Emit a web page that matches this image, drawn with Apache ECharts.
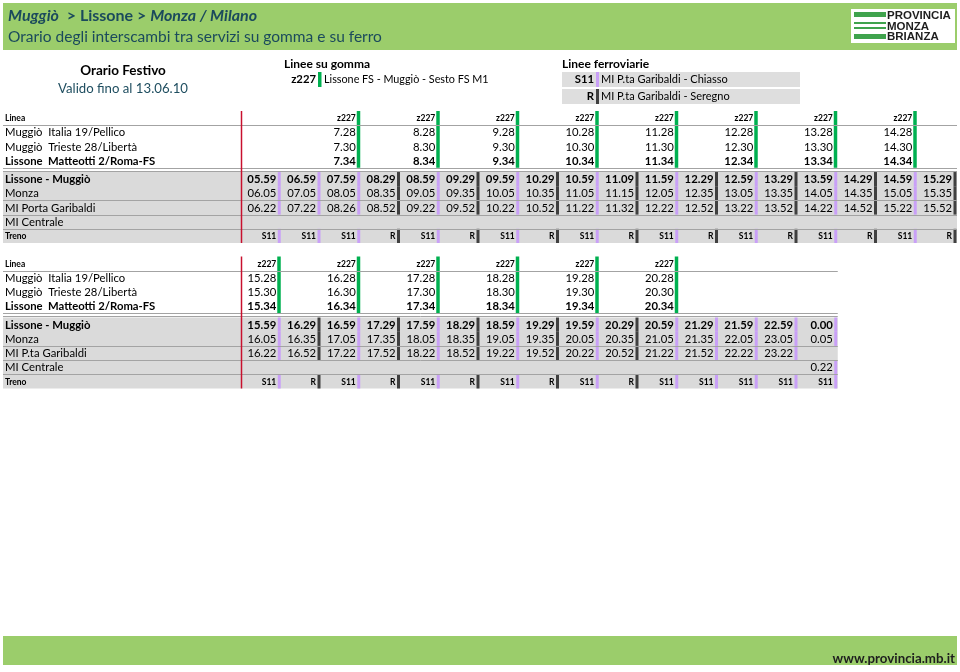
<!DOCTYPE html>
<html><head><meta charset="utf-8">
<script src="https://cdn.jsdelivr.net/npm/echarts@6/dist/echarts.min.js"></script>
<style>html,body{margin:0;padding:0;background:#fff}#c{width:960px;height:672px}</style>
</head><body><div id="c"></div>
<script>
// ---------------- DATA ----------------
const busLine = 'z227';
const busStops = ['Muggiò  Italia 19/Pellico', 'Muggiò  Trieste 28/Libertà', 'Lissone  Matteotti 2/Roma-FS'];
const trainStops1 = ['Lissone - Muggiò', 'Monza', 'MI Porta Garibaldi', 'MI Centrale'];
const trainStops2 = ['Lissone - Muggiò', 'Monza', 'MI P.ta Garibaldi', 'MI Centrale'];

// Table 1 (morning / midday)
const t1BusCols    = [2, 4, 6, 8, 10, 12, 14, 16];
const t1BusItalia  = ['7.28', '8.28', '9.28', '10.28', '11.28', '12.28', '13.28', '14.28'];
const t1BusTrieste = ['7.30', '8.30', '9.30', '10.30', '11.30', '12.30', '13.30', '14.30'];
const t1BusLissone = ['7.34', '8.34', '9.34', '10.34', '11.34', '12.34', '13.34', '14.34'];
const t1Lissone   = ['05.59','06.59','07.59','08.29','08.59','09.29','09.59','10.29','10.59','11.09','11.59','12.29','12.59','13.29','13.59','14.29','14.59','15.29'];
const t1Monza     = ['06.05','07.05','08.05','08.35','09.05','09.35','10.05','10.35','11.05','11.15','12.05','12.35','13.05','13.35','14.05','14.35','15.05','15.35'];
const t1Garibaldi = ['06.22','07.22','08.26','08.52','09.22','09.52','10.22','10.52','11.22','11.32','12.22','12.52','13.22','13.52','14.22','14.52','15.22','15.52'];
const t1Centrale  = ['','','','','','','','','','','','','','','','','',''];
const t1Treno     = ['S11','S11','S11','R','S11','R','S11','R','S11','R','S11','R','S11','R','S11','R','S11','R'];

// Table 2 (afternoon / evening)
const t2BusCols    = [0, 2, 4, 6, 8, 10];
const t2BusItalia  = ['15.28', '16.28', '17.28', '18.28', '19.28', '20.28'];
const t2BusTrieste = ['15.30', '16.30', '17.30', '18.30', '19.30', '20.30'];
const t2BusLissone = ['15.34', '16.34', '17.34', '18.34', '19.34', '20.34'];
const t2Lissone   = ['15.59','16.29','16.59','17.29','17.59','18.29','18.59','19.29','19.59','20.29','20.59','21.29','21.59','22.59','0.00'];
const t2Monza     = ['16.05','16.35','17.05','17.35','18.05','18.35','19.05','19.35','20.05','20.35','21.05','21.35','22.05','23.05','0.05'];
const t2Garibaldi = ['16.22','16.52','17.22','17.52','18.22','18.52','19.22','19.52','20.22','20.52','21.22','21.52','22.22','23.22',''];
const t2Centrale  = ['','','','','','','','','','','','','','','0.22'];
const t2Treno     = ['S11','R','S11','R','S11','R','S11','R','S11','R','S11','S11','S11','S11','S11'];

// ---------------- STYLE / LAYOUT ----------------
const FONT = 'Lato, "Open Sans", sans-serif';
const LOGO_FONT = '"Liberation Sans", Arial, sans-serif';
const C = {
  banner: '#9bcd6b', title: '#1b4a5c', gray: '#dadada', rule: '#a3a3a3',
  green: '#00b050', S11: '#c9a0f7', R: '#404040', red: '#c8102e', text: '#000'
};
const ROW_TOP = [0, 1, 2, 3, 4.3, 5.3, 6.3, 7.3, 8.3];
const Y_MAX = 9.3, X_MIN = -6, X_MAX = 18;
const MAIN_SIZE = 11.3, SMALL_SIZE = 8.5;

function buildTable(busCols, busRows, trainStops, trainRows, treno) {
  const nCols = treno.length;
  const texts = [], bars = [], bands = [], rules = [];
  texts.push({ col: X_MIN, row: 0, text: 'Linea', left: true, small: true, bold: true });
  busCols.forEach(c => texts.push({ col: c, row: 0, text: busLine, small: true, bold: true }));
  busStops.forEach((s, i) => {
    texts.push({ col: X_MIN, row: i + 1, text: s, left: true, bold: i === 2 });
    busRows[i].forEach((v, k) => texts.push({ col: busCols[k], row: i + 1, text: v, bold: i === 2 }));
  });
  busCols.forEach(c => bars.push({ col: c, y0: ROW_TOP[0], y1: ROW_TOP[3] + 1, color: C.green, w: 3.5 }));
  trainStops.forEach((s, i) => {
    const r = i + 4;
    texts.push({ col: X_MIN, row: r, text: s, left: true, bold: i === 0 });
    trainRows[i].forEach((v, c) => {
      if (v === '') return;
      texts.push({ col: c, row: r, text: v, bold: i === 0 });
      bars.push({ col: c, y0: ROW_TOP[r], y1: ROW_TOP[r] + 1, color: C[treno[c]], w: 3 });
    });
  });
  texts.push({ col: X_MIN, row: 8, text: 'Treno', left: true, small: true, bold: true });
  treno.forEach((t, c) => {
    texts.push({ col: c, row: 8, text: t, small: true, bold: true });
    bars.push({ col: c, y0: ROW_TOP[8], y1: ROW_TOP[8] + 1, color: C[t], w: 3 });
  });
  bands.push({ x0: X_MIN, x1: nCols, y0: ROW_TOP[4], y1: Y_MAX });
  [1, 4.0, 4.2, 6.3, 7.3, 8.3].forEach(y => rules.push({ x0: X_MIN, x1: nCols, y0: y, y1: y, color: C.rule, lw: 1 }));
  rules.push({ x0: 0, x1: 0, y0: 0, y1: Y_MAX, color: C.red, lw: 1.5, vertical: true });
  return { texts, bars, bands, rules };
}

const tables = [
  buildTable(t1BusCols, [t1BusItalia, t1BusTrieste, t1BusLissone], trainStops1,
             [t1Lissone, t1Monza, t1Garibaldi, t1Centrale], t1Treno),
  buildTable(t2BusCols, [t2BusItalia, t2BusTrieste, t2BusLissone], trainStops2,
             [t2Lissone, t2Monza, t2Garibaldi, t2Centrale], t2Treno)
];

function crisp(v) { return Math.round(v) + 0.5; }

function seriesFor(tbl, gi) {
  const base = { type: 'custom', coordinateSystem: 'cartesian2d', xAxisIndex: gi, yAxisIndex: gi, silent: true, animation: false };
  return [
    Object.assign({}, base, {
      z: 1, data: tbl.bands.map(b => [b.x0, b.y0]),
      renderItem: (p, api) => {
        const b = tbl.bands[p.dataIndex];
        const a = api.coord([b.x0, b.y0]), z = api.coord([b.x1, b.y1]);
        return { type: 'rect', shape: { x: a[0], y: a[1], width: z[0] - a[0], height: z[1] - a[1] }, style: { fill: C.gray } };
      }
    }),
    Object.assign({}, base, {
      z: 2, data: tbl.bars.map(b => [b.col, b.y0]),
      renderItem: (p, api) => {
        const b = tbl.bars[p.dataIndex];
        const a = api.coord([b.col + 1, b.y0]), z = api.coord([b.col + 1, b.y1]);
        return { type: 'rect', shape: { x: a[0] - b.w - 0.5, y: a[1], width: b.w, height: z[1] - a[1] }, style: { fill: b.color } };
      }
    }),
    Object.assign({}, base, {
      z: 3, data: tbl.rules.map(r => [r.x0, r.y0]),
      renderItem: (p, api) => {
        const r = tbl.rules[p.dataIndex];
        const a = api.coord([r.x0, r.y0]), z = api.coord([r.x1, r.y1]);
        const shape = r.vertical
          ? { x1: a[0], y1: a[1], x2: z[0], y2: z[1] }
          : { x1: a[0], y1: crisp(a[1]), x2: z[0], y2: crisp(z[1]) };
        return { type: 'line', shape, style: { stroke: r.color, lineWidth: r.lw } };
      }
    }),
    Object.assign({}, base, {
      z: 4, data: tbl.texts.map(t => [t.col, ROW_TOP[t.row]]),
      renderItem: (p, api) => {
        const t = tbl.texts[p.dataIndex];
        const yMid = ROW_TOP[t.row] + 0.5;
        const pos = t.left ? api.coord([X_MIN, yMid]) : api.coord([t.col + 1, yMid]);
        const size = t.small ? SMALL_SIZE : MAIN_SIZE;
        return {
          type: 'text', x: t.left ? pos[0] + 2 : pos[0] - 5, y: pos[1] + 0.5,
          style: { text: t.text, fill: C.text, align: t.left ? 'left' : 'right', verticalAlign: 'middle',
                   font: (t.bold ? 'bold ' : '') + size + 'px ' + FONT }
        };
      }
    })
  ];
}

const gridTops = [111, 256.5];
const option = {
  animation: false,
  grid: gridTops.map(t => ({ left: 3, right: 3, top: t, height: 132, show: false })),
  xAxis: gridTops.map((t, i) => ({ type: 'value', gridIndex: i, min: X_MIN, max: X_MAX, show: false })),
  yAxis: gridTops.map((t, i) => ({ type: 'value', gridIndex: i, min: 0, max: Y_MAX, inverse: true, show: false })),
  series: [].concat(seriesFor(tables[0], 0), seriesFor(tables[1], 1)),
  graphic: [
    // top banner
    { type: 'rect', shape: { x: 3, y: 3, width: 954, height: 47 }, style: { fill: C.banner }, z: 0 },
    { type: 'text', x: 8, y: 16, style: {
        text: '{bi|Muggiò}{b|  > Lissone > }{bi|Monza / Milano}', verticalAlign: 'middle',
        rich: {
          bi: { font: 'italic bold 16px ' + FONT, fill: C.title },
          b: { font: 'bold 16px ' + FONT, fill: C.title }
        } } },
    { type: 'text', x: 8, y: 37, style: { text: 'Orario degli interscambi tra servizi su gomma e su ferro', fill: C.title, font: '15.5px ' + FONT, verticalAlign: 'middle' } },
    // logo
    { type: 'rect', shape: { x: 851, y: 9, width: 104, height: 34 }, style: { fill: '#fff' } },
    { type: 'rect', shape: { x: 854, y: 12, width: 32, height: 5 }, style: { fill: '#3fa34d' } },
    { type: 'rect', shape: { x: 854, y: 22, width: 32, height: 2 }, style: { fill: '#3fa34d' } },
    { type: 'rect', shape: { x: 854, y: 27, width: 32, height: 2 }, style: { fill: '#3fa34d' } },
    { type: 'rect', shape: { x: 854, y: 34, width: 32, height: 5 }, style: { fill: '#3fa34d' } },
    { type: 'text', x: 887, y: 16, style: { text: 'PROVINCIA', fill: '#1e1e1e', font: 'bold 11.5px ' + LOGO_FONT, verticalAlign: 'middle' } },
    { type: 'text', x: 887, y: 26.5, style: { text: 'MONZA', fill: '#1e1e1e', font: 'bold 11.5px ' + LOGO_FONT, verticalAlign: 'middle' } },
    { type: 'text', x: 887, y: 37, style: { text: 'BRIANZA', fill: '#1e1e1e', font: 'bold 11.5px ' + LOGO_FONT, verticalAlign: 'middle' } },
    // info block
    { type: 'text', x: 123, y: 71, style: { text: 'Orario Festivo', fill: '#000', font: 'bold 13.5px ' + FONT, align: 'center', verticalAlign: 'middle' } },
    { type: 'text', x: 123, y: 89, style: { text: 'Valido fino al 13.06.10', fill: '#1f4e60', font: '13.2px ' + FONT, align: 'center', verticalAlign: 'middle' } },
    { type: 'text', x: 284, y: 64, style: { text: 'Linee su gomma', fill: '#000', font: 'bold 12px ' + FONT, verticalAlign: 'middle' } },
    { type: 'text', x: 316, y: 79.5, style: { text: busLine, fill: '#000', font: 'bold 11.3px ' + FONT, align: 'right', verticalAlign: 'middle' } },
    { type: 'rect', shape: { x: 318, y: 72, width: 3.5, height: 15 }, style: { fill: C.green } },
    { type: 'text', x: 324, y: 79.5, style: { text: 'Lissone FS - Muggiò - Sesto FS M1', fill: '#000', font: '10.8px ' + FONT, verticalAlign: 'middle' } },
    { type: 'text', x: 562, y: 64, style: { text: 'Linee ferroviarie', fill: '#000', font: 'bold 12px ' + FONT, verticalAlign: 'middle' } },
    { type: 'rect', shape: { x: 562, y: 72, width: 238, height: 15 }, style: { fill: '#dedede' } },
    { type: 'text', x: 594, y: 79.5, style: { text: 'S11', fill: '#000', font: 'bold 11.3px ' + FONT, align: 'right', verticalAlign: 'middle' } },
    { type: 'rect', shape: { x: 596, y: 72, width: 3, height: 15 }, style: { fill: C.S11 } },
    { type: 'text', x: 601, y: 79.5, style: { text: 'MI P.ta Garibaldi - Chiasso', fill: '#000', font: '11px ' + FONT, verticalAlign: 'middle' } },
    { type: 'rect', shape: { x: 562, y: 89, width: 238, height: 15 }, style: { fill: '#dedede' } },
    { type: 'text', x: 594, y: 96.5, style: { text: 'R', fill: '#000', font: 'bold 11.3px ' + FONT, align: 'right', verticalAlign: 'middle' } },
    { type: 'rect', shape: { x: 596, y: 89, width: 3, height: 15 }, style: { fill: C.R } },
    { type: 'text', x: 601, y: 96.5, style: { text: 'MI P.ta Garibaldi - Seregno', fill: '#000', font: '11px ' + FONT, verticalAlign: 'middle' } },
    // footer
    { type: 'rect', shape: { x: 3, y: 636, width: 954, height: 29 }, style: { fill: C.banner } },
    { type: 'text', x: 955, y: 659, style: { text: 'www.provincia.mb.it', fill: '#1e1e1e', font: 'bold 13.3px ' + FONT, align: 'right', verticalAlign: 'middle' } }
  ]
};

const chart = echarts.init(document.getElementById('c'), null, { renderer: 'canvas' });
chart.setOption(option);
</script>
</body></html>
